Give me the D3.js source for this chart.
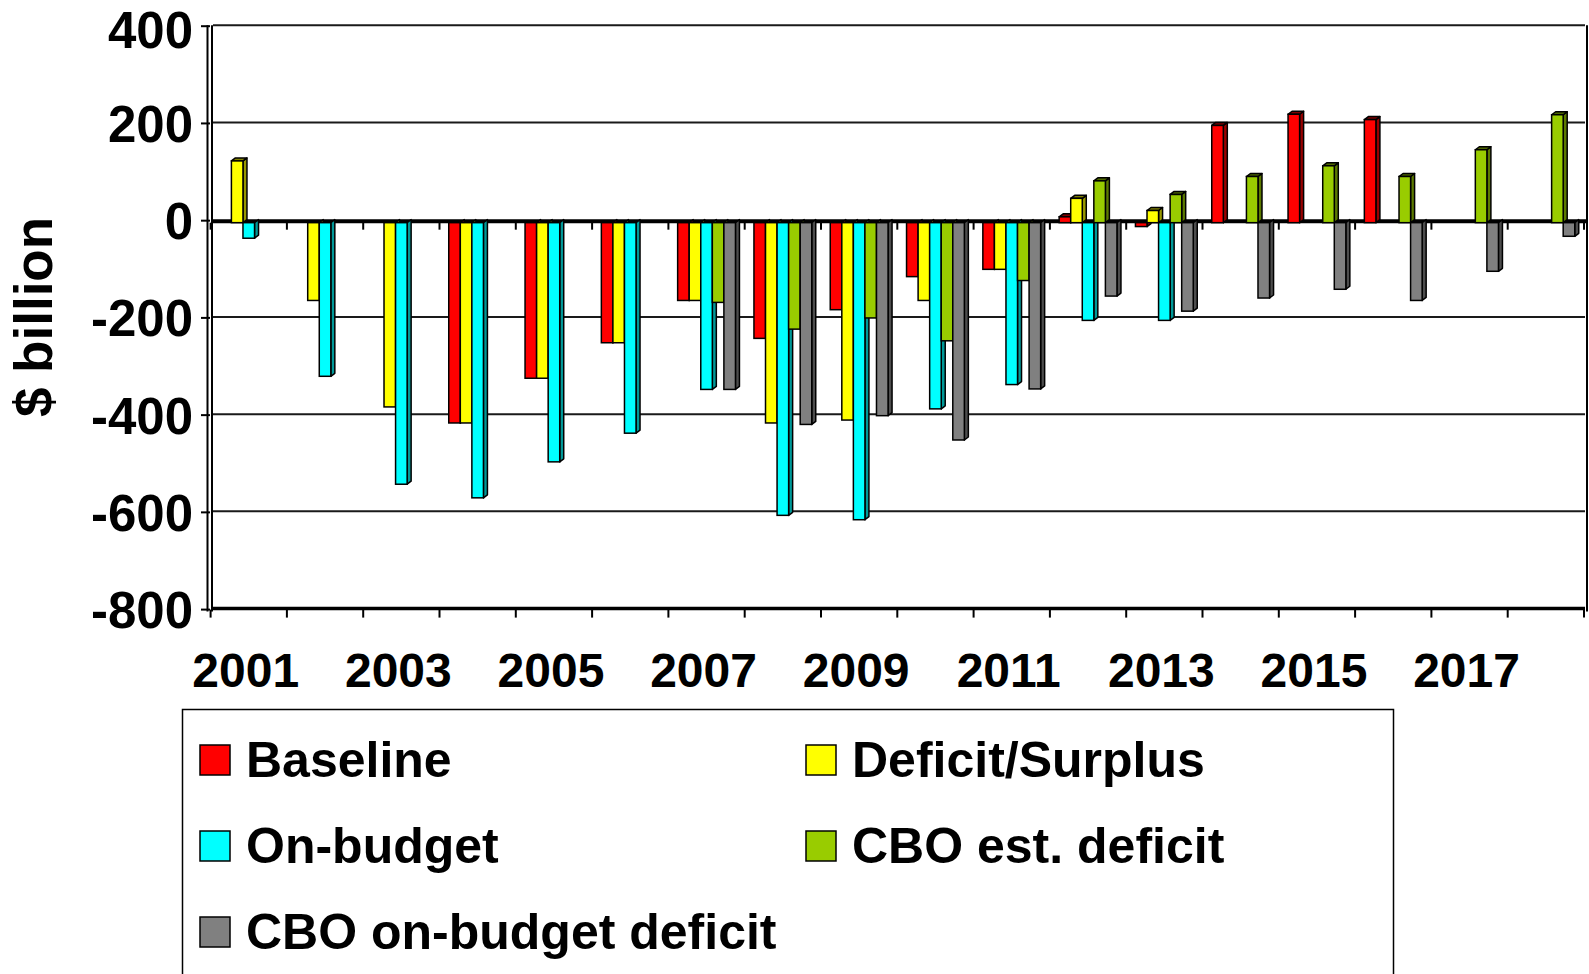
<!DOCTYPE html>
<html>
<head>
<meta charset="utf-8">
<script src="https://cdn.jsdelivr.net/npm/d3@7"></script>
<style>
  html, body { margin: 0; padding: 0; background: #fff; }
  svg { display: block; }
  text { font-family: "Liberation Sans", Arial, sans-serif; font-weight: bold; fill: #000; }
</style>
</head>
<body>
<svg id="chart" width="1589" height="974"></svg>
<script>
// ---------------- data ----------------
const years = ["2001","2002","2003","2004","2005","2006","2007","2008","2009",
               "2010","2011","2012","2013","2014","2015","2016","2017","2018"];
const xTickLabels = ["2001","2003","2005","2007","2009","2011","2013","2015","2017"];
const yTicks = [400, 200, 0, -200, -400, -600, -800];
const seriesNames = ["Baseline", "Deficit/Surplus", "On-budget", "CBO est. deficit", "CBO on-budget deficit"];

const baseline     = [null, null, null, -412, -320, -247, -160, -238, -179, -111, -96, 12, -8, 200, 223, 212, null, null];
const deficitSurp  = [127, -160, -379, -412, -320, -247, -160, -412, -406, -160, -96, 50, 25, null, null, null, null, null];
const onBudget     = [-32, -316, -538, -566, -492, -433, -343, -602, -611, -383, -333, -201, -201, null, null, null, null, null];
const cboEst       = [null, null, null, null, null, null, -164, -219, -196, -243, -119, 86, 58, 95, 117, 95, 150, 222];
const cboOnBudget  = [null, null, null, null, null, null, -343, -415, -397, -447, -342, -151, -182, -155, -137, -160, -100, -28];

const seriesValues = [baseline, deficitSurp, onBudget, cboEst, cboOnBudget];
const seriesColors = ["#FF0000", "#FFFF00", "#00FFFF", "#99CC00", "#808080"];

// ---------------- layout ----------------
const svg = d3.select("#chart");
const W = 1589, H = 974;
const plotLeft = 211, plotRight = 1585;
const DX = 4, DY = 3;           // 3D depth offset

const y = d3.scaleLinear().domain([-800, 400]).range([608.6, 25.2]);
const x = d3.scaleBand().domain(years).range([210.6, 1584]).padding(0);
const xs = d3.scaleBand().domain(seriesNames).range([0, x.bandwidth()])
  .paddingInner(0).paddingOuter(0.8);

svg.append("rect").attr("width", W).attr("height", H).attr("fill", "#fff");

// back wall gridlines
const g = svg.append("g");
g.selectAll("line.grid").data(yTicks.filter(v => v !== 0 && v !== -800))
  .join("line").attr("class", "grid")
  .attr("x1", plotLeft + 2).attr("x2", plotRight)
  .attr("y1", d => y(d)).attr("y2", d => y(d))
  .attr("stroke", "#1a1a1a").attr("stroke-width", 2);

// right wall edge
g.append("line").attr("x1", plotRight + 2).attr("x2", plotRight + 2)
  .attr("y1", y(400)).attr("y2", y(-800) + 3)
  .attr("stroke", "#000").attr("stroke-width", 2);

// left wall (double line)
[207.5, 212].forEach(px => {
  g.append("line").attr("x1", px).attr("x2", px)
    .attr("y1", y(400)).attr("y2", y(-800) + 3)
    .attr("stroke", "#000").attr("stroke-width", 2);
});

// y ticks
g.selectAll("line.ytick").data(yTicks).join("line").attr("class", "ytick")
  .attr("x1", 201).attr("x2", 210)
  .attr("y1", d => y(d) + 1).attr("y2", d => y(d) + 1)
  .attr("stroke", "#000").attr("stroke-width", 2);

// y tick labels
g.selectAll("text.ylab").data(yTicks).join("text").attr("class", "ylab")
  .attr("x", 193).attr("y", d => y(d) + 2 + (d === 400 ? 3 : 0))
  .attr("text-anchor", "end").attr("dominant-baseline", "central")
  .attr("font-size", 51)
  .text(d => d);

// y axis title
svg.append("text")
  .attr("transform", `translate(52, ${317}) rotate(-90)`)
  .attr("text-anchor", "middle")
  .attr("font-size", 53)
  .text("$ billion");

// bottom axis line (-800)
g.append("line").attr("x1", plotLeft).attr("x2", plotRight)
  .attr("y1", y(-800)).attr("y2", y(-800))
  .attr("stroke", "#000").attr("stroke-width", 3.5);

const boundaries = years.map(d => x(d)).concat([x(years[years.length - 1]) + x.bandwidth()]);
g.selectAll("line.btick").data(boundaries).join("line").attr("class", "btick")
  .attr("x1", d => d).attr("x2", d => d)
  .attr("y1", y(-800) + 1).attr("y2", y(-800) + 9)
  .attr("stroke", "#000").attr("stroke-width", 2);

// floor at zero
g.append("line").attr("x1", plotLeft).attr("x2", plotRight + 2)
  .attr("y1", y(0) + 1.5).attr("y2", y(0) + 1.5)
  .attr("stroke", "#000").attr("stroke-width", 4);

g.selectAll("line.ztick").data(boundaries).join("line").attr("class", "ztick")
  .attr("x1", d => d).attr("x2", d => d)
  .attr("y1", y(0) + 3).attr("y2", y(0) + 10)
  .attr("stroke", "#000").attr("stroke-width", 2);

// x labels
svg.selectAll("text.xlab").data(xTickLabels).join("text").attr("class", "xlab")
  .attr("x", d => x(d) + x.bandwidth() / 2 - 3)
  .attr("y", 687)
  .attr("text-anchor", "middle")
  .attr("font-size", 48)
  .text(d => d);

// ---------------- bars ----------------
function shade(c, k) {
  const col = d3.color(c);
  return d3.rgb(col.r * k, col.g * k, col.b * k).formatHex();
}
const barsG = svg.append("g");
seriesNames.forEach((name, si) => {
  const data = years.map((yr, i) => ({ yr, v: seriesValues[si][i] })).filter(d => d.v !== null);
  const sg = barsG.append("g");
  const color = seriesColors[si];
  sg.selectAll("g.bar").data(data).join("g").attr("class", "bar").each(function (d) {
    const gb = d3.select(this);
    const x0 = x(d.yr) + xs(name);
    const x1 = x0 + xs.bandwidth();
    const yv = y(d.v) + DY, yz = y(0) + DY;
    const yTop = Math.min(yv, yz), yBot = Math.max(yv, yz);
    // side face
    gb.append("path")
      .attr("d", `M${x1},${yTop} L${x1 + DX},${yTop - DY} L${x1 + DX},${yBot - DY} L${x1},${yBot} Z`)
      .attr("fill", shade(color, 0.6)).attr("stroke", "#000").attr("stroke-width", 1.5)
      .attr("stroke-linejoin", "round");
    // top face (only visible for positive bars)
    if (d.v > 0) {
      gb.append("path")
        .attr("d", `M${x0},${yTop} L${x0 + DX},${yTop - DY} L${x1 + DX},${yTop - DY} L${x1},${yTop} Z`)
        .attr("fill", shade(color, 0.5)).attr("stroke", "#000").attr("stroke-width", 1.5)
        .attr("stroke-linejoin", "round");
    }
    // front face
    gb.append("rect")
      .attr("x", x0).attr("y", yTop)
      .attr("width", xs.bandwidth()).attr("height", Math.max(yBot - yTop, 0.5))
      .attr("fill", color).attr("stroke", "#000").attr("stroke-width", 1.5);
  });
});

// ---------------- legend ----------------
const lg = svg.append("g");
lg.append("rect").attr("x", 182.5).attr("y", 709.5).attr("width", 1211).attr("height", 300)
  .attr("fill", "#fff").attr("stroke", "#000").attr("stroke-width", 1.5);
const colX = [200, 806];
const rowY = [760, 846, 932];
const items = lg.selectAll("g.item").data(seriesNames).join("g").attr("class", "item")
  .attr("transform", (d, i) => `translate(${colX[i % 2]}, ${rowY[Math.floor(i / 2)]})`);
items.append("rect").attr("x", 0).attr("y", -15).attr("width", 30).attr("height", 30)
  .attr("fill", (d, i) => seriesColors[i]).attr("stroke", "#000").attr("stroke-width", 1.5);
items.append("text").attr("x", 46).attr("y", 17).attr("font-size", 50).text(d => d);
</script>
</body>
</html>
